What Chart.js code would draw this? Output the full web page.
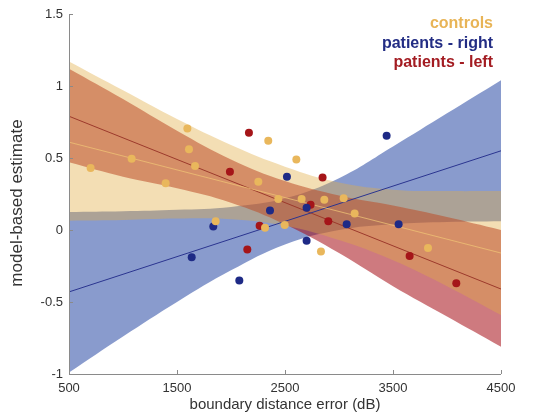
<!DOCTYPE html>
<html lang="en">
<head>
    <meta charset="UTF-8">
    <title>model-based estimate vs boundary distance error</title>
    <script src="https://cdn.jsdelivr.net/npm/chart.js"></script>
    <style>
        html, body { margin: 0; padding: 0; background: #fff; }
        #wrap { width: 556px; height: 417px; }
    </style>
</head>
<body>
<div id="wrap"><canvas id="chart" width="556" height="417"></canvas></div>
<script>
    // axis ticks
    const xTicks = [500, 1500, 2500, 3500, 4500];
    const yTicks = [-1, -0.5, 0, 0.5, 1, 1.5];
    const groupNames = ['controls', 'patients - right', 'patients - left'];
    const yTitle = 'model-based estimate';

    // individual subjects
    const controlsX = [700, 1080, 1395, 1596, 1611, 1667, 1858, 2253, 2345, 2315, 2438, 2497, 2605, 2654, 2833, 2864, 3043, 3145, 3824];
    const controlsY = [0.43, 0.495, 0.325, 0.705, 0.56, 0.445, 0.06, 0.335, 0.62, 0.015, 0.215, 0.035, 0.49, 0.215, -0.15, 0.21, 0.22, 0.115, -0.125];
    const rightX = [1636, 1836, 2077, 2361, 2518, 2700, 2700, 3071, 3441, 3552];
    const rightY = [-0.19, 0.025, -0.35, 0.135, 0.37, 0.155, -0.075, 0.04, 0.655, 0.04];
    const leftX = [1990, 2166, 2151, 2265, 2737, 2848, 2901, 3654, 4086];
    const leftY = [0.405, 0.675, -0.135, 0.03, 0.175, 0.365, 0.06, -0.18, -0.37];

    // regression lines (ends)
    const fitX = [500, 4500];
    const controlsFit = [0.61, -0.16];
    const rightFit = [-0.43, 0.55];
    const leftFit = [0.79, -0.41];

    // confidence bands
    const bandX = [500, 1000, 1500, 2000, 2500, 3000, 3500, 4000, 4500];
    const controlsUpper = [1.17, 0.97, 0.77, 0.59, 0.44, 0.33, 0.28, 0.27, 0.27];
    const controlsLower = [0.065, 0.07, 0.08, 0.075, 0.03, -0.07, -0.21, -0.39, -0.59];
    const rightUpper = [0.125, 0.13, 0.14, 0.16, 0.22, 0.36, 0.58, 0.81, 1.04];
    const rightLower = [-0.99, -0.74, -0.50, -0.28, -0.10, 0.0, 0.04, 0.055, 0.06];
    const leftUpper = [1.12, 0.91, 0.69, 0.49, 0.34, 0.24, 0.17, 0.09, 0.0];
    const leftLower = [0.47, 0.37, 0.29, 0.19, 0.04, -0.16, -0.39, -0.60, -0.81];

    const legendColors = ['#e8b456', '#232d84', '#a31c22'];
    const font = '"Liberation Sans", Arial, sans-serif';

    function pts(xs, ys) {
        return xs.map((x, i) => ({ x: x, y: ys[i] }));
    }

    function bandPair(upper, lower, color, order) {
        return [
            { data: pts(bandX, upper), fill: '+1', backgroundColor: color, borderWidth: 0, pointRadius: 0, tension: 0.4, order: order },
            { data: pts(bandX, lower), fill: false, borderWidth: 0, pointRadius: 0, tension: 0.4, order: order }
        ];
    }

    function fitLine(ys, color) {
        return { data: pts(fitX, ys), borderColor: color, borderWidth: 1, pointRadius: 0, fill: false, order: 1 };
    }

    function dots(xs, ys, color) {
        return { data: pts(xs, ys), showLine: false, pointRadius: 4, pointBackgroundColor: color, pointBorderWidth: 0, order: 0 };
    }

    // inward ticks, axis lines, y label and the coloured group labels
    const matlabAxes = {
        id: 'matlabAxes',
        afterDatasetsDraw(chart) {
            const { ctx, chartArea: a, scales: { x, y } } = chart;
            ctx.save();
            ctx.strokeStyle = '#8a8a8a';
            ctx.lineWidth = 1;
            ctx.beginPath();
            ctx.moveTo(a.left + 0.5, a.top);
            ctx.lineTo(a.left + 0.5, a.bottom + 0.5);
            ctx.lineTo(a.right, a.bottom + 0.5);
            xTicks.forEach(v => {
                const px = Math.round(x.getPixelForValue(v)) + 0.5;
                ctx.moveTo(px, a.bottom);
                ctx.lineTo(px, a.bottom - 4);
            });
            yTicks.forEach(v => {
                const py = Math.round(y.getPixelForValue(v)) + 0.5;
                ctx.moveTo(a.left, py);
                ctx.lineTo(a.left + 4, py);
            });
            ctx.stroke();

            ctx.font = 'bold 16px ' + font;
            ctx.textAlign = 'right';
            ctx.textBaseline = 'middle';
            groupNames.forEach((name, i) => {
                ctx.fillStyle = legendColors[i];
                ctx.fillText(name, a.right - 8, 24 + i * 19.5);
            });

            // y axis label, a little below the axis centre as in the figure
            ctx.translate(17, (a.top + a.bottom) / 2 + 9);
            ctx.rotate(-Math.PI / 2);
            ctx.font = '17px ' + font;
            ctx.textAlign = 'center';
            ctx.fillStyle = '#333';
            ctx.fillText(yTitle, 0, 0);
            ctx.restore();
        }
    };

    const ctx = document.getElementById('chart').getContext('2d');
    new Chart(ctx, {
        type: 'line',
        data: {
            datasets: [
                ...bandPair(controlsUpper, controlsLower, 'rgba(225, 172, 67, 0.4)', 10),
                ...bandPair(rightUpper, rightLower, 'rgba(40, 73, 164, 0.55)', 30),
                ...bandPair(leftUpper, leftLower, 'rgba(165, 12, 22, 0.55)', 20),
                fitLine(controlsFit, 'rgba(240, 196, 118, 0.75)'),
                fitLine(rightFit, '#2b3590'),
                fitLine(leftFit, '#9c3a2c'),
                dots(controlsX, controlsY, '#e9b75c'),
                dots(rightX, rightY, '#1e2a86'),
                dots(leftX, leftY, '#a51519')
            ]
        },
        options: {
            responsive: false,
            animation: false,
            layout: { padding: { top: 14, right: 55, bottom: 0, left: 0 } },
            plugins: { legend: { display: false }, tooltip: { enabled: false } },
            scales: {
                x: {
                    type: 'linear',
                    min: 500,
                    max: 4500,
                    afterBuildTicks: s => { s.ticks = xTicks.map(v => ({ value: v })); },
                    afterFit: s => { s.height = 43; s.paddingLeft = 0; s.paddingRight = 0; },
                    grid: { display: false, drawTicks: false },
                    border: { display: false },
                    ticks: { color: '#333', font: { size: 13, family: font }, padding: 7, maxRotation: 0, autoSkip: false, callback: v => String(v) },
                    title: { display: true, text: 'boundary distance error (dB)', color: '#333', font: { size: 15, family: font }, padding: { top: 0, bottom: 3 } }
                },
                y: {
                    type: 'linear',
                    min: -1,
                    max: 1.5,
                    afterBuildTicks: s => { s.ticks = yTicks.map(v => ({ value: v })); },
                    afterFit: s => { s.width = 69; s.paddingTop = 0; s.paddingBottom = 0; },
                    grid: { display: false, drawTicks: false },
                    border: { display: false },
                    ticks: { color: '#333', font: { size: 13, family: font }, padding: 6, callback: v => String(v) },
                    title: { display: false }
                }
            }
        },
        plugins: [matlabAxes]
    });
</script>
</body>
</html>
